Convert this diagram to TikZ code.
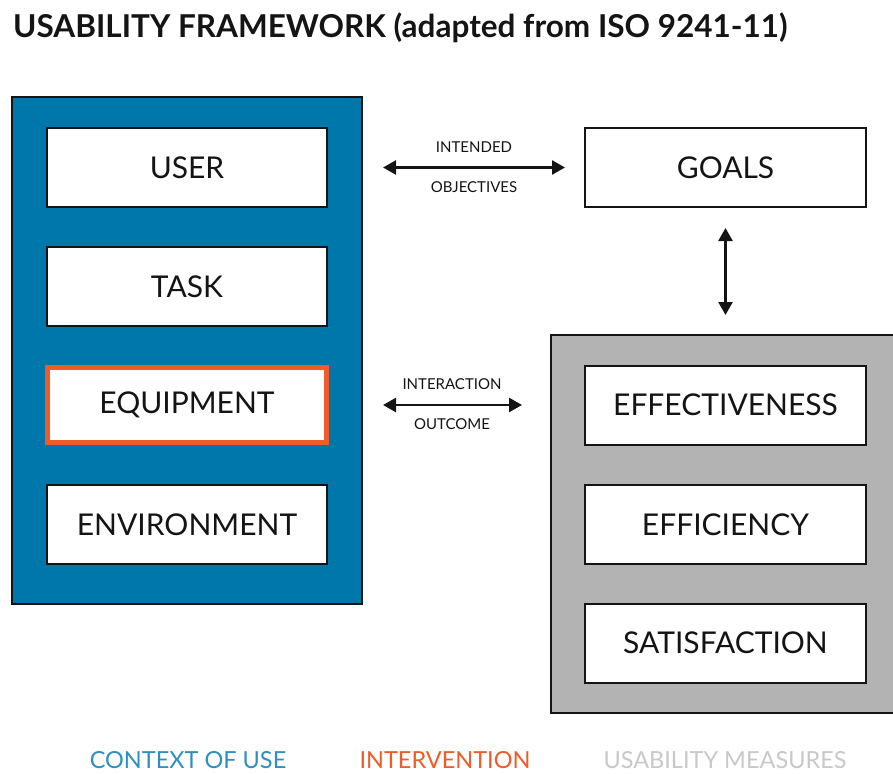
\documentclass[tikz,border=0pt]{standalone}
\usepackage{fontspec}
\setmainfont{Lato}
\usetikzlibrary{arrows.meta}
\definecolor{ctxblue}{RGB}{0,119,170}
\definecolor{legblue}{RGB}{46,143,192}
\definecolor{interv}{RGB}{240,92,40}
\definecolor{meas}{RGB}{179,179,179}
\definecolor{measleg}{RGB}{200,200,200}
\definecolor{ink}{RGB}{20,20,20}
\tikzset{
  item/.style={draw=ink, line width=2pt, fill=white, minimum width=280pt, minimum height=79pt, inner sep=0pt, text=ink, font=\fontsize{30}{32}\selectfont},
  group/.style={draw=ink, line width=2pt},
  link/.style={<->, >={Triangle[length=13pt,width=14pt]}, line width=2.5pt, draw=ink},
  small/.style={text=ink, font=\fontsize{15}{17}\selectfont, inner sep=0pt},
  legend/.style={font=\fontsize{23.5}{25}\selectfont, inner sep=0pt, anchor=base}
}
\begin{document}
\begin{tikzpicture}[x=1pt,y=-1pt]
\useasboundingbox (0,0) rectangle (893,773);
\node[anchor=west, text=ink, inner sep=0pt, font=\fontsize{31.5}{34}\selectfont\bfseries] (title) at (13,28) {USABILITY FRAMEWORK (adapted from ISO 9241-11)};
% context of use
\draw[group, fill=ctxblue] (12,97) rectangle (362,604);
\coordinate (ctx) at (187,97);
\node[item] (user) at (187,167.5) {USER};
\node[item] (task) at (187,286.5) {TASK};
\node[item, draw=interv, line width=5pt, minimum width=279pt, minimum height=75pt] (equip) at (187,405) {EQUIPMENT};
\node[item] (env) at (187,524.5) {ENVIRONMENT};
% goals
\node[item, minimum width=281pt] (goals) at (725.5,167.5) {GOALS};
% measures
\draw[group, fill=meas] (551,335) rectangle (905,713);
\coordinate (meas) at (725.5,335);
\node[item, minimum width=281pt] (eff) at (725.5,405) {EFFECTIVENESS};
\node[item, minimum width=281pt] (effi) at (725.5,524.5) {EFFICIENCY};
\node[item, minimum width=281pt] (sat) at (725.5,643) {SATISFACTION};
% connectors
\draw[link, shorten <=55pt, shorten >=19pt] (user.east) -- (goals.west);
\node[small] (intended) at (474,147) {INTENDED};
\node[small] (objectives) at (474,187) {OBJECTIVES};
\draw[link, shorten <=20pt, shorten >=20pt] (goals.south) -- (meas);
\draw[link, shorten <=54pt, shorten >=62pt] (equip.east) -- (eff.west);
\node[small] (interaction) at (452,384) {INTERACTION};
\node[small] (outcome) at (452,424) {OUTCOME};
% legend
\node[legend, text=legblue] (l1) at (188,768.5) {CONTEXT OF USE};
\node[legend, text=interv] (l2) at (445,768.5) {INTERVENTION};
\node[legend, text=measleg] (l3) at (725,768.5) {USABILITY MEASURES};
\end{tikzpicture}
\end{document}
